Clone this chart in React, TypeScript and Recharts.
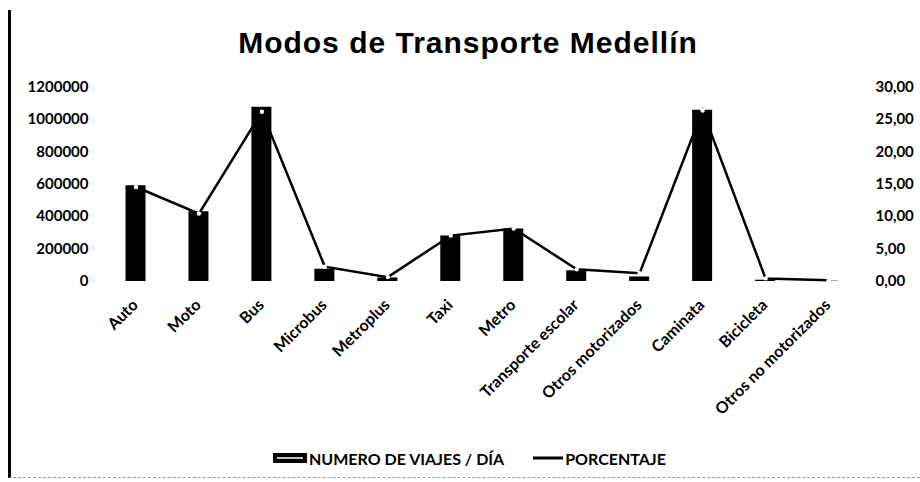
import React from 'react';
import { ComposedChart, Bar, Line, XAxis, YAxis, Legend } from 'recharts';

const categories = [
  'Auto', 'Moto', 'Bus', 'Microbus', 'Metroplus', 'Taxi', 'Metro',
  'Transporte escolar', 'Otros motorizados', 'Caminata', 'Bicicleta', 'Otros no motorizados',
];
const viajes = [590000, 431000, 1075000, 76000, 22000, 281000, 324000, 66000, 28000, 1057000, 8000, 2000];
const porcentaje = [14.5, 10.4, 26.1, 2.2, 0.6, 7.0, 8.1, 1.8, 1.2, 26.3, 0.4, 0.1];
const leftTicks = [0, 200000, 400000, 600000, 800000, 1000000, 1200000];
const rightTicks = [0, 5, 10, 15, 20, 25, 30];

const data = categories.map((name, i) => ({ name, viajes: viajes[i], porcentaje: porcentaje[i] }));

const FONT = 'Lato, "Open Sans", sans-serif';
const tickStyle = { fontFamily: FONT, fontWeight: 700, fontSize: 15, fill: '#000' };

const XTick = (props: any) => {
  const { x, y, payload } = props;
  return (
    <g transform={`translate(${x + 3},${y + 25})`}>
      <text
        transform="rotate(-45)"
        textAnchor="end"
        fontFamily={FONT}
        fontWeight={700}
        fontSize={16}
        fill="#000"
      >
        {payload.value}
      </text>
    </g>
  );
};

const WhiteDot = (props: any) => {
  const { cx, cy, index } = props;
  return <circle key={`d${index}`} cx={cx} cy={cy} r={2.2} fill="#fff" stroke="none" />;
};

const LegendContent = () => (
  <div
    style={{
      display: 'flex',
      alignItems: 'center',
      height: 20,
      paddingLeft: 273,
      fontFamily: FONT,
      fontWeight: 700,
      fontSize: 16,
      color: '#000',
      whiteSpace: 'nowrap',
    }}
  >
    <svg width={34} height={10} style={{ marginRight: 2 }}>
      <rect x={0} y={0} width={34} height={10} fill="#000" />
      <line x1={4} y1={5} x2={30} y2={5} stroke="#fff" strokeWidth={1.5} />
    </svg>
    <span>NUMERO DE VIAJES / DÍA</span>
    <svg width={30} height={10} style={{ marginLeft: 29, marginRight: 2 }}>
      <line x1={0} y1={5} x2={30} y2={5} stroke="#000" strokeWidth={3} />
    </svg>
    <span>PORCENTAJE</span>
  </div>
);

export default function App() {
  return (
    <div style={{ position: 'absolute', left: 0, top: 0, width: 920, height: 482, background: '#fff' }}>
      <div
        style={{
          position: 'absolute',
          left: 8,
          top: 10,
          width: 912,
          height: 468,
          borderLeft: '3px solid #000',
          borderBottom: '1px dashed #999',
          boxSizing: 'border-box',
        }}
      />
      <div
        style={{
          position: 'absolute',
          left: 8,
          top: 28,
          width: 920,
          textAlign: 'center',
          fontFamily: '"Liberation Sans", Arial, sans-serif',
          fontWeight: 700,
          fontSize: 30,
          letterSpacing: 1,
          lineHeight: '30px',
          color: '#000',
        }}
      >
        Modos de Transporte Medellín
      </div>
      <ComposedChart
        width={920}
        height={482}
        data={data}
        margin={{ top: 86.5, right: 5, bottom: 51, left: 10 }}
      >
        <XAxis
          dataKey="name"
          interval={0}
          axisLine={false}
          tickLine={false}
          tickSize={0}
          tickMargin={0}
          height={150}
          tick={<XTick />}
        />
        <YAxis
          yAxisId="left"
          width={94.5}
          domain={[0, 1200000]}
          ticks={leftTicks}
          axisLine={false}
          tickLine={false}
          tickSize={0}
          tickMargin={16}
          tick={tickStyle}
        />
        <YAxis
          yAxisId="right"
          orientation="right"
          width={55}
          domain={[0, 30]}
          ticks={rightTicks}
          axisLine={false}
          tickLine={false}
          tickSize={0}
          tickMargin={15.5}
          tick={tickStyle}
          tickFormatter={(v: number) => v.toFixed(2).replace('.', ',')}
        />
        <Legend
          verticalAlign="middle"
          align="center"
          layout="horizontal"
          wrapperStyle={{ position: 'absolute', top: 448, left: 0, width: 920, height: 20 }}
          content={<LegendContent />}
        />
        <Bar yAxisId="left" dataKey="viajes" name="NUMERO DE VIAJES / DÍA" fill="#000" barSize={20} isAnimationActive={false} />
        <Line
          yAxisId="right"
          type="linear"
          dataKey="porcentaje"
          name="PORCENTAJE"
          stroke="#000"
          strokeWidth={2.5}
          dot={WhiteDot}
          activeDot={false}
          isAnimationActive={false}
        />
      </ComposedChart>
    </div>
  );
}
